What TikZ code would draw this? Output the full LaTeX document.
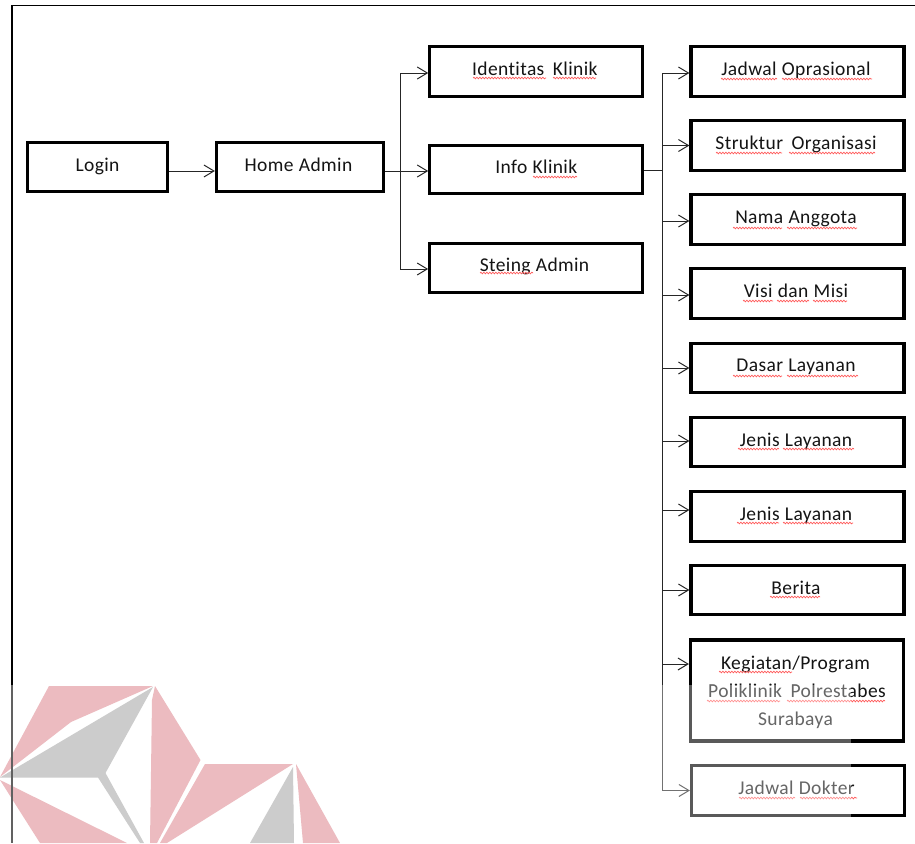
\documentclass[tikz,border=0pt]{standalone}
\usepackage{fontspec}
\setmainfont{Carlito}[LetterSpace=2,Ligatures=NoCommon,WordSpace=1.1]
\usetikzlibrary{arrows.meta,decorations.pathmorphing}
\newcommand\tb[1]{\raisebox{4.6pt}{#1}}
\newcommand\tr[1]{\raisebox{4.6pt}{#1}\hspace{3pt}}
\definecolor{pinkwm}{RGB}{236,187,192}
\definecolor{graywm}{RGB}{204,204,204}
\tikzset{
  bx/.style={draw=black,line width=3.2pt,fill=white,align=center,font=\fontsize{19.5}{28}\selectfont,inner sep=0pt,text=black!92},
  lnk/.style={draw=black!85,line width=1pt},
  arr/.style={lnk,-{Straight Barb[length=10pt,width=12pt,line width=1pt]}},
  wv/.style={draw=red!65!white,line width=.7pt,decorate,decoration={snake,segment length=3pt,amplitude=.8pt}}
}
\newcommand\wave[3]{\draw[wv] (#1,#3) -- (#2,#3);}
\begin{document}
\begin{tikzpicture}[x=1pt,y=-1pt]
\useasboundingbox (0,0) rectangle (915,843);
\fill[white] (0,0) rectangle (915,843);
% frame
\coordinate (ftl) at (12,5.5);
\coordinate (ftr) at (915,5.5);
\coordinate (fbl) at (12,843);
\coordinate (fmid) at (12,685);
\draw[line width=1.6pt,black] (ftr) -- (ftl) -- (fbl);
% boxes
\node[bx,minimum width=140,minimum height=49] (login) at (97.5,167) {\raisebox{4pt}{Login}};
\node[bx,minimum width=167,minimum height=49] (home) at (300,167) {\raisebox{4pt}{Home Admin}\hspace{3pt}};
\node[bx,minimum width=213,minimum height=50] (ident) at (536.3,71.5) {\tr{Identitas\, Klinik}};
\node[bx,minimum width=213,minimum height=48.5] (info) at (536.3,169.5) {\raisebox{5pt}{Info Klinik}};
\node[bx,minimum width=212.5,minimum height=49] (steing) at (536,268) {\raisebox{6pt}{Steing Admin}\hspace{3pt}};
\node[bx,minimum width=213,minimum height=49.5] (r1) at (797.5,71.5) {\tr{Jadwal Oprasional}};
\node[bx,minimum width=213,minimum height=49.5] (r2) at (797.5,145.5) {\tr{Struktur\, Organisasi}};
\node[bx,minimum width=213,minimum height=49.5] (r3) at (797.5,219.5) {\tr{Nama Anggota}};
\node[bx,minimum width=213,minimum height=49.5] (r4) at (797.5,293.5) {\tr{Visi dan Misi}};
\node[bx,minimum width=213,minimum height=48.5] (r5) at (797.5,368) {\tr{Dasar Layanan}};
\node[bx,minimum width=213,minimum height=48.5] (r6) at (797.5,442) {\tr{Jenis Layanan}};
\node[bx,minimum width=213,minimum height=49.5] (r7) at (797.5,516.5) {\tr{Jenis Layanan}};
\node[bx,minimum width=213,minimum height=48.5] (r8) at (797.5,590) {\tr{Berita}};
\node[bx,minimum width=213,minimum height=101] (r9) at (797,690.5) {\rule{0pt}{17pt}Kegiatan/Program\hspace*{3pt}\\Poliklinik\, Polrestabes\hspace*{3pt}\\Surabaya\hspace*{3pt}};
\node[bx,minimum width=213,minimum height=49.5] (r10) at (798,790.5) {\tr{Jadwal Dokter}};
% spelling marks
\wave{473}{546}{78}\wave{553}{596}{78}
\wave{533}{577}{177}
\wave{480}{533}{273}
\wave{721}{777}{79}\wave{782}{872}{79}
\wave{716}{782}{153}\wave{789}{875}{153}
\wave{733}{782}{228}\wave{787}{857}{228}
\wave{743}{773}{301}\wave{777}{809}{301}\wave{813}{847}{301}
\wave{733}{782}{376}\wave{787}{858}{376}
\wave{738}{779}{449}\wave{783}{854}{449}
\wave{737}{779}{523}\wave{783}{853}{523}
\wave{770}{820}{597}
\wave{719}{792}{672}
\wave{707}{780}{701}\wave{787}{885}{701}
\wave{739}{795}{798}\wave{800}{857}{798}
% connectors
\coordinate (hsplit) at (400.5,171);
\coordinate (bus) at (662,170);
\draw[arr] ([yshift=-4pt]login.east) -- ([yshift=-4pt]home.west);
\draw[arr] ([yshift=-4pt]home.east) -- ([yshift=-1.5pt]info.west);
\draw[arr] (hsplit) |- ([yshift=-1.5pt]ident.west);
\draw[arr] (hsplit) |- ([yshift=-1pt]steing.west);
\draw[lnk] ([yshift=-.5pt]info.east) -- (bus);
\draw[arr] (bus) |- ([yshift=-1.5pt]r1.west);
\draw[arr] (bus) |- (r2.west);
\draw[arr] (bus) |- ([yshift=-1.5pt]r3.west);
\draw[arr] (bus) |- ([yshift=-1.5pt]r4.west);
\draw[arr] (bus) |- (r5.west);
\draw[arr] (bus) |- ([yshift=1pt]r6.west);
\draw[arr] (bus) |- ([yshift=6.5pt]r7.west);
\draw[arr] (bus) |- (r8.west);
\draw[arr] (bus) |- ([yshift=26.5pt]r9.west);
\draw[arr] (bus) |- (r10.west);
% fading of the lower part
\fill[white,opacity=.35] (0,685) rectangle (851,843);
% watermark
\fill[pinkwm] (49,686) -- (153,686) -- (71,722) -- (0,777) -- cycle;
\fill[graywm] (0,777.5) -- (153,687) -- (105.5,773) -- (144,843) -- (140,843) -- (98,777.5) -- cycle;
\fill[pinkwm] (155,686) -- (200.5,760) -- (157,843) -- (150,843) -- (152,700) -- cycle;
\fill[pinkwm] (0,780) -- (127,843) -- (40,843) -- cycle;
\fill[pinkwm] (205,764) -- (293,764) -- (167,843) -- (160,843) -- cycle;
\fill[graywm] (293,767) -- (250,843) -- (294,843) -- cycle;
\fill[pinkwm] (296,764) -- (340,843) -- (303,843) -- cycle;
\draw[line width=1.4pt,black!62] (fmid) -- (fbl);
\end{tikzpicture}
\end{document}
